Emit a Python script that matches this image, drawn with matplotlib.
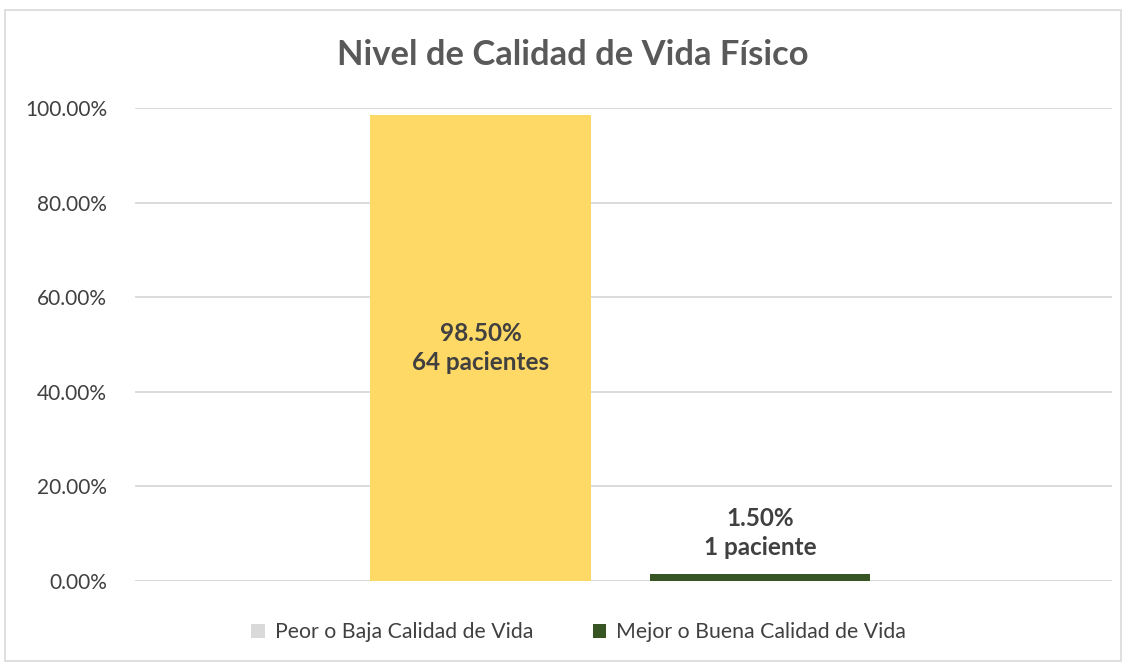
import matplotlib
matplotlib.use("Agg")
import matplotlib.pyplot as plt
from matplotlib.patches import Patch, Rectangle
from matplotlib.ticker import FuncFormatter

plt.rcParams['font.family'] = ['Lato', 'DejaVu Sans']

title = "Nivel de Calidad de Vida Físico"
series_names = ["Peor o Baja Calidad de Vida", "Mejor o Buena Calidad de Vida"]
values = [98.5, 1.5]
patients = ["64 pacientes", "1 paciente"]
bar_colors = ["#FFD966", "#375623"]
legend_colors = ["#D9D9D9", "#375623"]
yticks = [0, 20, 40, 60, 80, 100]

fig = plt.figure(figsize=(11.28, 6.64), dpi=100)
ax = fig.add_axes([0.1197, 0.125, 0.866, 0.7123])

positions = [0, 1]
ax.bar(positions, values, width=0.79, color=bar_colors, zorder=2)

ax.set_xlim(-1.236, 2.259)
ax.set_ylim(0, 100)
ax.set_yticks(yticks)
ax.yaxis.set_major_formatter(FuncFormatter(lambda v, p: f"{v:.2f}%"))
ax.tick_params(axis='y', length=0, pad=20, labelsize=15, labelcolor="#404040")
ax.set_xticks([])
ax.grid(axis='y', color="#D9D9D9", linewidth=1.3, zorder=0)
for s in ax.spines.values():
    s.set_visible(False)
ax.axhline(0, color="#D9D9D9", linewidth=1.3, zorder=1)

# data labels
lab_text = [f"{v:.2f}%\n{p}" for v, p in zip(values, patients)]
ax.text(positions[0], values[0] / 2, lab_text[0], ha='center', va='center',
        fontsize=17.5, fontweight='bold', color="#404040", linespacing=1.3, zorder=3)
ax.text(positions[1], values[1] + 3.2, lab_text[1], ha='center', va='bottom',
        fontsize=17.5, fontweight='bold', color="#404040", linespacing=1.3, zorder=3)

fig.text(0.508, 0.917, title, ha='center', va='center', fontsize=24.8,
         fontweight='bold', color="#595959")

handles = [Patch(facecolor=c, edgecolor='none') for c in legend_colors]
fig.legend(handles, series_names, loc='center', bbox_to_anchor=(0.513, 0.048),
           ncol=2, frameon=False, fontsize=15.3, handlelength=0.65, handleheight=0.65,
           columnspacing=2.8, handletextpad=0.45, labelcolor="#404040")

fig.patches.append(Rectangle((0.004, 0.005), 0.99, 0.98, transform=fig.transFigure,
                             fill=False, edgecolor="#D9D9D9", linewidth=1.2))

fig.savefig("out.png", dpi=100)
